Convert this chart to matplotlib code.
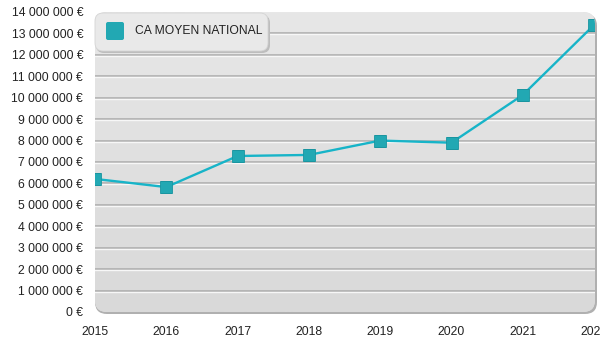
import numpy as np
import matplotlib
matplotlib.use("Agg")
import matplotlib.pyplot as plt
from matplotlib.colors import LinearSegmentedColormap
from matplotlib.patches import FancyBboxPatch
from matplotlib.transforms import offset_copy, IdentityTransform
from matplotlib.ticker import FuncFormatter, MultipleLocator

plt.rcParams['font.family'] = ['Liberation Sans', 'DejaVu Sans']

years = [2015, 2016, 2017, 2018, 2019, 2020, 2021, 2022]
ca_moyen = [6210000, 5830000, 7280000, 7330000, 8000000, 7900000, 10130000, 13400000]
series_label = "CA MOYEN NATIONAL"

line_color = '#17b4c8'
marker_color = '#22a8b3'
marker_edge = '#1a95a0'
text_color = '#222222'

W, H, DPI = 600, 350, 100
fig = plt.figure(figsize=(W / DPI, H / DPI), dpi=DPI)
fig.patch.set_facecolor('white')

# plot area in pixels
px0, px1 = 95, 597
py_top, py_bot = 12, 312
ax = fig.add_axes([px0 / W, (H - py_bot) / H, (px1 - px0) / W, (py_bot - py_top) / H])
ax.set_facecolor('none')
for s in ax.spines.values():
    s.set_visible(False)

x_max = 2022.04
ax.set_xlim(years[0], x_max)
ax.set_ylim(0, 14e6)

# rounded background with drop shadow and vertical gradient
ident = IdentityTransform()
r = 12
shadow = FancyBboxPatch((px0 + r, H - py_bot + r - 2), (px1 - px0) - 2 * r, (py_bot - py_top) - 2 * r,
                        boxstyle=f"round,pad={r}", transform=ident,
                        facecolor='#b0b0b0', edgecolor='none', zorder=0, clip_on=False)
ax.add_patch(shadow)
bg = FancyBboxPatch((px0 + r, H - py_bot + r), (px1 - px0) - 2 * r - 2, (py_bot - py_top) - 2 * r,
                    boxstyle=f"round,pad={r}", transform=ident,
                    facecolor='#e0e0e0', edgecolor='none', zorder=0.5, clip_on=False)
ax.add_patch(bg)
grad = np.linspace(0, 1, 256).reshape(-1, 1)
gimg = ax.imshow(grad, extent=(years[0], x_max, 0, 14e6), aspect='auto',
                 cmap=LinearSegmentedColormap.from_list('g', ['#e7e7e7', '#d9d9d9']),
                 zorder=0.6, origin='upper')
gimg.set_clip_path(bg)
ax.set_xlim(years[0], x_max)
ax.set_ylim(0, 14e6)

# embossed gridlines
white_tr = offset_copy(ax.transData, fig=fig, x=0, y=-1, units='dots')
for v in np.arange(1e6, 14e6, 1e6):
    g1 = ax.axhline(v, color='#ababab', lw=1.1, zorder=1)
    g2 = ax.plot([years[0], x_max], [v, v], color='#f7f7f7', lw=1.0, zorder=1,
                 transform=white_tr)[0]
    g1.set_clip_path(bg)
    g2.set_clip_path(bg)

line, = ax.plot(years, ca_moyen, color=line_color, lw=1.7, zorder=3,
                marker='s', markersize=8.6, markerfacecolor=marker_color,
                markeredgecolor=marker_edge, markeredgewidth=0.6)
line.set_clip_path(bg)

ax.yaxis.set_major_locator(MultipleLocator(1e6))
ax.yaxis.set_major_formatter(FuncFormatter(
    lambda v, p: (f"{int(round(v)):,}".replace(",", " ") + " €")))
ax.set_xticks(years)
ax.set_xticklabels([str(y) for y in years])
ax.tick_params(axis='y', length=0, pad=8.5, labelsize=8.7, colors=text_color)
ax.tick_params(axis='x', length=0, pad=10, labelsize=8.7, colors=text_color)

# legend box
lx0, lx1 = 95, 269
ly_top, ly_bot = 13, 51
lr = 8
lshadow = FancyBboxPatch((lx0 + lr + 1, H - ly_bot + lr - 2), (lx1 - lx0) - 2 * lr, (ly_bot - ly_top) - 2 * lr,
                         boxstyle=f"round,pad={lr}", transform=ident,
                         facecolor='#bdbdbd', edgecolor='none', zorder=4)
fig.patches.append(lshadow)
lbox = FancyBboxPatch((lx0 + lr, H - ly_bot + lr), (lx1 - lx0) - 2 * lr - 1, (ly_bot - ly_top) - 2 * lr,
                      boxstyle=f"round,pad={lr}", transform=ident,
                      facecolor='#e9e9e9', edgecolor='#d4d4d4', lw=0.6, zorder=4.1)
fig.patches.append(lbox)
sw = FancyBboxPatch((106 + 2, H - 40 + 2), 14, 14, boxstyle="round,pad=2", transform=ident,
                    facecolor=marker_color, edgecolor='none', zorder=4.2)
fig.patches.append(sw)
fig.text(135 / W, (H - 31.5) / H, series_label, fontsize=8.7, color=text_color,
         va='center', ha='left', zorder=5)

fig.savefig('out.png', dpi=DPI)
